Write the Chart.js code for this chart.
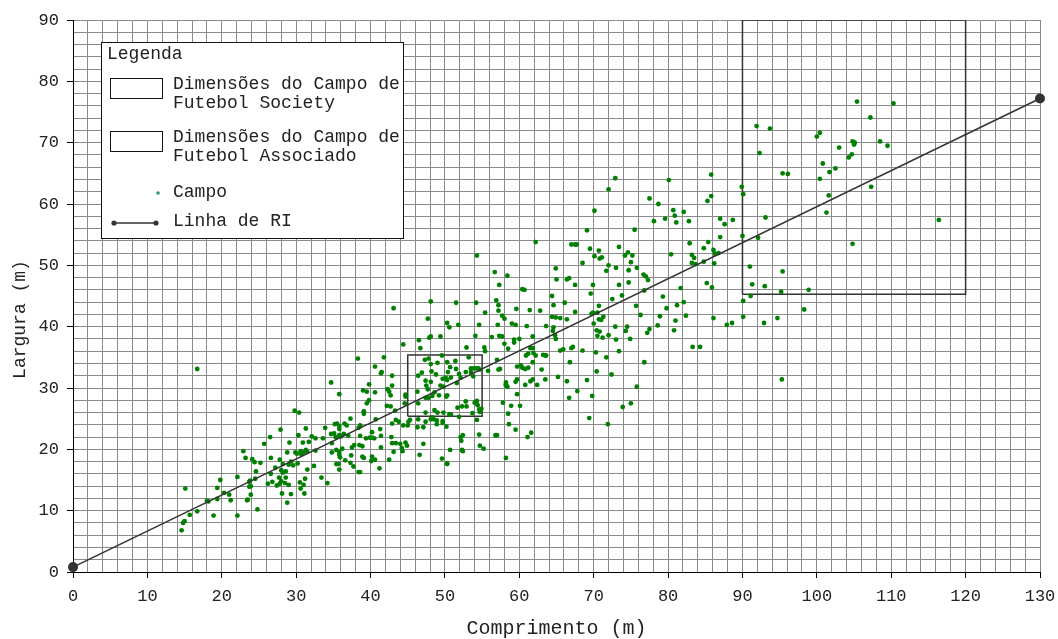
<!DOCTYPE html>
<html lang="pt">
<head>
<meta charset="utf-8">
<title>Campos - Comprimento x Largura</title>
<script src="https://cdn.jsdelivr.net/npm/chart.js@4/dist/chart.umd.min.js"></script>
<style>
  html, body { margin: 0; padding: 0; background: #fff; }
  #wrap { width: 1058px; height: 639px; position: relative; }
</style>
</head>
<body>
<div id="wrap"><canvas id="chart"></canvas></div>
<script>
/* Comprimento x Largura dos campos, com linha de RI e dimensões de referência */

// Eixos
const X_TITLE = 'Comprimento (m)';
const Y_TITLE = 'Largura (m)';
const X_RANGE = [0, 130];
const Y_RANGE = [0, 90];

// Linha de RI (extremos)
const riX = [0, 130];
const riY = [0.8, 77.2];

// Dimensões dos campos de referência [min, max]
const societyX = [45, 55];
const societyY = [25.4, 35.4];
const associadoX = [90, 120];
const associadoY = [45.3, 90];

// Campos medidos: [comprimento, largura]
const campo = [
  [105.4,76.7],[110.3,76.4],[107.2,74.1],[91.9,72.7],[93.7,72.3],[100.0,71.0],[100.4,71.6],[103.0,69.2],
  [104.8,70.2],[105.1,70.0],[105.0,69.7],[108.5,70.2],[109.5,69.5],[92.3,68.3],[104.7,68.1],[104.3,67.6],
  [100.8,66.6],[101.7,65.2],[102.5,65.8],[95.4,65.0],[96.1,64.9],[100.4,64.1],[85.8,64.8],[89.9,62.8],
  [90.1,61.6],[107.3,62.8],[101.6,61.4],[101.3,58.6],[116.4,57.4],[104.8,53.5],[93.1,57.8],[90.0,54.8],
  [92.1,54.5],[91.0,49.8],[95.4,49.0],[91.3,46.9],[93.0,46.6],[95.2,45.7],[98.9,46.0],[91.1,45.0],
  [90.1,44.2],[98.3,42.8],[86.1,41.4],[90.1,41.6],[94.7,41.4],[85.8,61.3],[85.3,60.5],[87.0,57.6],
  [87.6,56.7],[88.7,57.4],[87.0,54.6],[84.8,52.8],[85.4,53.8],[86.1,52.5],[86.3,51.9],[86.8,52.0],
  [84.8,50.6],[86.2,50.3],[85.2,47.1],[85.9,46.4],[92.9,40.6],[95.3,31.4],
  // 65 - 85 m
  [72.9,64.2],[72.0,62.4],[80.1,63.9],[70.1,58.9],[77.5,60.9],[78.7,60.0],[80.7,59.0],[80.9,58.1],
  [81.1,57.0],[82.1,58.7],[82.8,57.2],[78.1,57.2],[79.6,57.6],[69.1,55.7],[75.5,55.8],[67.0,53.4],
  [67.5,53.4],[67.7,53.4],[69.5,52.7],[70.1,51.5],[70.7,52.4],[70.8,51.1],[71.1,51.3],[73.4,53.0],
  [74.2,51.6],[74.6,52.1],[75.2,51.6],[68.5,50.4],[72.0,50.0],[71.7,49.1],[73.0,49.6],[74.7,49.2],
  [75.0,50.5],[75.8,49.6],[76.7,48.5],[77.0,48.2],[77.3,47.6],[66.4,47.7],[66.7,47.9],[67.5,46.8],
  [69.9,46.8],[69.6,45.4],[73.4,46.8],[74.7,47.2],[73.8,45.1],[72.5,44.5],[76.8,45.9],[80.4,51.8],
  [82.9,53.6],[83.2,51.7],[83.5,51.2],[83.2,50.4],[83.7,50.2],[81.7,46.3],[66.1,43.9],[67.5,42.4],
  [65.5,41.4],[66.4,41.2],[69.7,42.1],[69.9,42.3],[70.5,42.3],[70.7,43.4],[70.7,41.2],[71.0,41.1],
  [71.3,41.6],[70.0,40.5],[70.4,39.4],[70.8,39.2],[71.2,38.2],[70.5,38.5],[72.0,38.6],[73.0,37.9],
  [72.9,40.0],[74.5,40.0],[74.3,39.3],[74.9,38.0],[73.4,36.0],[71.7,35.0],[75.7,43.4],[76.3,41.9],
  [77.5,39.6],[77.2,39.0],[78.6,40.2],[78.9,41.7],[79.3,44.9],[79.8,43.0],[81.2,43.5],[82.1,44.0],
  [82.4,41.8],[81.0,41.0],[80.8,39.4],[83.3,36.7],[84.3,36.7],[87.9,40.3],[88.6,40.6],[65.5,36.1],
  [65.9,36.3],[67.0,36.5],[67.2,36.7],[68.5,36.1],[70.3,35.8],[66.8,34.2],[66.4,31.1],[66.7,28.4],
  [67.8,29.5],[69.1,31.3],[69.8,28.7],[70.4,32.7],[72.4,32.2],[69.4,25.1],[71.9,24.1],[73.9,26.9],
  [75.0,27.5],[75.8,30.2],[76.8,34.2],
  // 40 - 65 m
  [62.2,53.8],[54.3,51.6],[56.7,48.9],[58.4,48.3],[57.3,46.8],[64.9,49.5],[65.0,47.7],[60.4,46.1],
  [60.7,46.0],[64.4,45.0],[64.6,43.5],[43.1,43.0],[48.1,44.1],[51.5,43.9],[54.2,43.9],[55.4,42.3],
  [56.9,44.3],[57.2,43.5],[57.2,42.6],[59.6,42.9],[61.4,42.7],[62.8,42.6],[57.7,41.8],[58.0,41.3],
  [59.0,40.5],[59.5,40.3],[57.1,40.3],[54.6,40.3],[51.8,40.3],[50.6,39.9],[50.3,40.6],[47.7,41.3],
  [49.4,38.4],[48.1,38.4],[47.9,38.2],[46.5,37.8],[46.7,36.5],[44.4,37.1],[41.8,35.0],[40.6,33.5],
  [41.4,32.4],[41.5,32.6],[42.9,32.0],[40.6,29.3],[42.3,29.8],[42.5,29.4],[42.7,28.8],[42.9,30.4],
  [42.2,27.1],[42.7,27.0],[43.3,26.3],[44.7,28.9],[44.7,28.6],[44.6,27.5],[42.9,24.2],[43.4,24.8],
  [43.8,24.5],[44.4,23.9],[45.0,23.9],[45.3,24.8],[45.1,24.5],[40.7,24.9],[40.2,22.8],[41.3,23.3],
  [41.4,22.2],[40.2,21.9],[40.5,21.8],[41.4,20.3],[42.8,22.0],[42.9,21.0],[43.1,19.6],[43.4,21.0],
  [44.0,20.9],[44.2,20.2],[44.3,19.7],[44.7,21.1],[44.9,20.6],[40.2,18.8],[40.6,18.3],[40.1,18.1],
  [42.5,18.3],[41.2,16.9],[47.1,20.9],[46.6,19.1],[49.6,18.5],[50.7,19.9],[50.3,17.6],[52.1,22.0],
  [52.2,21.4],[52.3,19.9],[52.4,19.7],[54.7,20.6],[55.2,20.1],[58.2,18.6],[56.8,22.3],[58.6,24.1],
  [59.5,23.2],[61.1,22.0],[61.6,22.7],[57.8,27.6],[58.5,25.8],[58.9,27.1],[60.1,27.1],[59.7,29.0],
  [58.2,30.9],[58.2,30.4],[58.4,30.2],[58.2,30.6],[59.5,31.0],[59.7,31.4],[60.8,30.5],[61.5,31.1],
  [61.8,31.4],[62.4,30.5],[59.7,33.5],[60.2,33.7],[60.4,33.3],[60.8,33.1],[61.2,33.3],[61.8,34.2],
  [63.0,33.0],[63.5,31.4],[60.9,35.3],[61.5,36.5],[61.8,36.5],[61.9,35.7],[62.2,35.3],[63.2,35.4],
  [63.5,35.3],[63.6,35.3],[61.2,35.6],[57.0,34.6],[57.2,33.0],[57.4,33.1],[55.8,32.8],[58.5,36.4],
  [59.3,37.9],[59.3,37.4],[60.0,38.0],[61.0,40.1],[61.8,38.4],[64.4,41.6],[64.6,39.9],[64.9,41.5],
  [64.5,39.3],[63.6,40.1],[64.8,38.6],[64.9,38.0],[65.2,31.8],[56.3,38.3],[57.3,38.5],[57.7,38.4],
  [58.0,37.2],[54.1,38.5],[55.3,36.6],[55.4,36.0],[52.9,36.6],[57.0,22.3],[50.3,17.7],[52.4,22.3],
  [54.6,22.4],
  // dentro / em volta do retângulo Society
  [49.6,35.3],[53.2,35.0],[53.9,33.2],[54.2,33.2],[54.5,33.2],[54.7,33.0],[47.3,34.6],[47.8,34.8],
  [48.1,33.9],[49.0,34.1],[50.3,34.2],[50.7,33.4],[50.4,32.6],[51.4,34.4],[51.5,33.1],[46.9,32.5],
  [46.4,32.0],[47.4,31.2],[47.5,30.4],[47.7,29.8],[48.1,31.0],[48.2,32.7],[48.8,32.2],[49.4,30.4],
  [49.8,30.2],[49.7,31.5],[50.1,31.7],[50.3,31.3],[50.8,31.7],[51.9,32.3],[52.1,31.7],[52.8,32.6],
  [53.5,32.6],[53.8,31.9],[51.6,30.8],[53.5,33.2],[46.3,29.4],[47.4,28.4],[48.3,28.7],[48.6,29.3],
  [49.2,28.8],[47.8,28.4],[50.2,28.6],[50.3,28.8],[46.4,27.5],[52.3,27.0],[52.8,27.8],[52.9,27.0],
  [54.0,27.6],[54.3,27.9],[54.4,27.2],[54.6,26.5],[54.9,26.6],[53.7,25.9],[54.7,26.1],[51.7,26.8],
  [50.8,25.7],[51.9,25.3],[49.8,26.0],[50.6,25.7],[47.4,26.0],[48.6,26.4],[49.0,26.0],[46.4,24.9],
  [48.3,25.2],[48.5,24.9],[48.9,24.7],[49.7,24.3],[48.1,24.9],[47.4,24.5],[46.3,23.6],[47.1,23.6],
  [48.9,24.1],[50.2,23.7],[49.7,24.6],[54.3,24.8],
  // até 40 m
  [38.3,34.8],[16.7,33.1],[34.7,30.9],[35.8,29.0],[39.0,29.6],[39.5,29.4],[39.8,30.6],[39.5,27.5],
  [39.8,28.0],[39.1,26.2],[39.1,25.8],[29.8,26.3],[30.4,26.0],[37.3,25.0],[35.2,24.1],[35.5,24.2],
  [35.8,23.8],[36.5,24.2],[36.8,23.9],[38.6,23.9],[38.4,23.5],[33.9,23.5],[31.3,23.4],[27.9,23.2],
  [34.7,22.5],[35.1,22.6],[35.3,22.0],[35.8,22.3],[36.0,22.1],[36.4,22.5],[37.0,22.2],[35.8,23.3],
  [38.6,22.2],[39.4,21.8],[39.9,21.9],[26.5,22.0],[32.1,22.1],[32.6,21.8],[33.6,21.8],[30.3,22.3],
  [30.9,21.1],[31.7,21.2],[29.1,21.1],[25.7,20.9],[29.9,19.5],[30.1,19.3],[30.6,19.7],[30.7,19.2],
  [31.0,19.5],[31.3,19.9],[31.5,19.6],[32.6,19.8],[28.8,19.5],[22.9,19.7],[23.2,18.6],[24.1,18.4],
  [24.4,17.9],[25.2,17.8],[26.6,18.6],[27.8,18.3],[28.2,17.6],[29.0,17.5],[29.3,18.0],[27.2,17.0],
  [28.0,16.6],[28.6,16.4],[26.6,16.0],[29.6,17.4],[30.2,17.7],[31.5,16.7],[32.4,17.3],[24.6,16.4],
  [24.5,15.2],[22.1,15.5],[23.8,14.9],[23.7,14.7],[23.9,14.0],[23.7,13.9],[26.2,14.4],[26.8,14.7],
  [27.4,14.1],[27.7,15.4],[27.8,14.4],[28.0,14.8],[28.2,16.2],[28.6,15.4],[28.5,14.5],[29.0,14.2],
  [30.5,14.6],[31.0,14.2],[31.2,15.2],[30.6,13.6],[31.1,12.8],[28.1,12.8],[29.3,12.7],[28.8,11.3],
  [33.4,15.4],[34.2,14.5],[19.8,15.0],[19.4,13.7],[20.3,12.9],[21.0,12.6],[21.2,11.7],[15.1,13.6],
  [18.0,11.6],[18.2,11.5],[19.4,11.9],[23.4,11.7],[23.5,11.8],[23.9,12.6],[22.1,9.2],[24.8,10.2],
  [18.9,9.2],[15.7,9.3],[16.7,9.9],[15.0,8.3],[14.8,8.0],[14.6,6.8],[37.5,20.3],[37.8,20.7],
  [38.5,20.7],[38.9,20.5],[38.9,18.8],[39.1,18.6],[38.4,16.3],[38.6,16.3],[37.4,19.0],[37.7,17.2],
  [37.3,17.8],[36.6,18.2],[35.9,18.7],[35.8,19.1],[35.4,17.6],[35.7,17.6],[35.8,16.7],[36.2,20.1],
  [35.8,19.6],[35.4,19.9],[34.8,19.5],[34.8,21.0]
];

const FONT = "'Liberation Mono', 'Courier New', monospace";
const INK = '#222';
const GREEN = '#008000';
const LINE = '#333';
const GRID = '#8a8a8a';

// retângulo fechado a partir de [min,max] em x e y
function rect(xs, ys) {
  return [
    { x: xs[0], y: ys[0] }, { x: xs[1], y: ys[0] },
    { x: xs[1], y: ys[1] }, { x: xs[0], y: ys[1] },
    { x: xs[0], y: ys[0] },
  ];
}

// Legenda em caixa + título do eixo Y (centralizado no canvas como no original)
const boxLegend = {
  id: 'boxLegend',
  afterDraw(chart) {
    const { ctx } = chart;
    const ds = chart.data.datasets;

    ctx.save();
    ctx.font = `18px ${FONT}`;
    ctx.fillStyle = INK;
    ctx.textAlign = 'center';
    ctx.textBaseline = 'middle';
    ctx.translate(20, chart.height / 2);
    ctx.rotate(-Math.PI / 2);
    ctx.fillText(Y_TITLE, 0, 0);
    ctx.restore();

    ctx.save();
    ctx.fillStyle = '#fff';
    ctx.fillRect(101.5, 42.5, 302, 196);
    ctx.strokeStyle = '#111';
    ctx.lineWidth = 1;
    ctx.strokeRect(101.5, 42.5, 302, 196);

    ctx.font = `18px ${FONT}`;
    ctx.fillStyle = INK;
    ctx.textAlign = 'left';
    ctx.textBaseline = 'middle';
    ctx.fillText('Legenda', 107, 54);

    const rows = [
      { i: 2, y: 84 },
      { i: 3, y: 137 },
      { i: 1, y: 192 },
      { i: 0, y: 221 },
    ];
    rows.forEach(r => {
      const d = ds[r.i];
      const lines = d.label.split('\n');
      if (d.legendType === 'rect') {
        ctx.strokeStyle = '#111';
        ctx.lineWidth = 1;
        ctx.strokeRect(110.5, r.y - 5.5, 52, 20);
      } else if (d.legendType === 'dot') {
        ctx.fillStyle = '#2f9a6a';
        ctx.beginPath();
        ctx.arc(158, r.y + 1, 1.8, 0, Math.PI * 2);
        ctx.fill();
      } else {
        ctx.strokeStyle = LINE;
        ctx.lineWidth = 1.5;
        ctx.beginPath();
        ctx.moveTo(114, r.y + 2);
        ctx.lineTo(156, r.y + 2);
        ctx.stroke();
        ctx.fillStyle = LINE;
        [114, 156].forEach(px => {
          ctx.beginPath();
          ctx.arc(px, r.y + 2, 2.6, 0, Math.PI * 2);
          ctx.fill();
        });
      }
      ctx.fillStyle = INK;
      lines.forEach((t, k) => ctx.fillText(t, 173, r.y + k * 19));
    });
    ctx.restore();
  }
};

const tickMark = c => (c.tick && c.tick.value % 10 === 0) ? '#000' : 'rgba(0,0,0,0)';
const tickLabel = v => (v % 10 === 0 ? v : '');

new Chart(document.getElementById('chart'), {
  type: 'scatter',
  data: {
    datasets: [
      {
        label: 'Linha de RI',
        legendType: 'line',
        data: riX.map((x, i) => ({ x, y: riY[i] })),
        showLine: true,
        clip: false,
        borderColor: LINE,
        borderWidth: 1.5,
        pointRadius: 5,
        pointBackgroundColor: LINE,
        pointBorderWidth: 0,
      },
      {
        label: 'Campo',
        legendType: 'dot',
        data: campo.map(p => ({ x: p[0], y: p[1] })),
        pointRadius: 2.4,
        pointBackgroundColor: GREEN,
        pointBorderWidth: 0,
      },
      {
        label: 'Dimensões do Campo de\nFutebol Society',
        legendType: 'rect',
        data: rect(societyX, societyY),
        showLine: true,
        borderColor: LINE,
        borderWidth: 1.5,
        pointRadius: 0,
      },
      {
        label: 'Dimensões do Campo de\nFutebol Associado',
        legendType: 'rect',
        data: rect(associadoX, associadoY),
        showLine: true,
        borderColor: LINE,
        borderWidth: 1.5,
        pointRadius: 0,
      },
    ],
  },
  options: {
    responsive: true,
    maintainAspectRatio: false,
    animation: false,
    layout: { padding: { top: 20, right: 18, left: 0, bottom: 0 } },
    plugins: {
      legend: { display: false },
      tooltip: { enabled: false },
    },
    scales: {
      x: {
        type: 'linear',
        min: X_RANGE[0],
        max: X_RANGE[1],
        // altura fixa do eixo e sem folga extra para o rótulo "130"
        afterFit: s => { s.height = 67; s.paddingRight = 0; s.paddingLeft = 0; },
        ticks: {
          stepSize: 2, autoSkip: false, maxRotation: 0, padding: 8,
          color: INK, font: { family: FONT, size: 17 }, callback: tickLabel,
        },
        grid: { color: GRID, lineWidth: 1, tickLength: 6, tickColor: tickMark },
        border: { color: '#000', width: 1 },
        title: {
          display: true, text: X_TITLE, color: INK,
          font: { family: FONT, size: 20, lineHeight: 1 }, padding: { top: 0, bottom: 0 },
        },
      },
      y: {
        type: 'linear',
        min: Y_RANGE[0],
        max: Y_RANGE[1],
        afterFit: s => { s.width = 73; },
        ticks: {
          stepSize: 2, autoSkip: false, padding: 8,
          color: INK, font: { family: FONT, size: 17 }, callback: tickLabel,
        },
        grid: { color: GRID, lineWidth: 1, tickLength: 6, tickColor: tickMark },
        border: { color: '#000', width: 1 },
      },
    },
  },
  plugins: [boxLegend],
});
</script>
</body>
</html>
